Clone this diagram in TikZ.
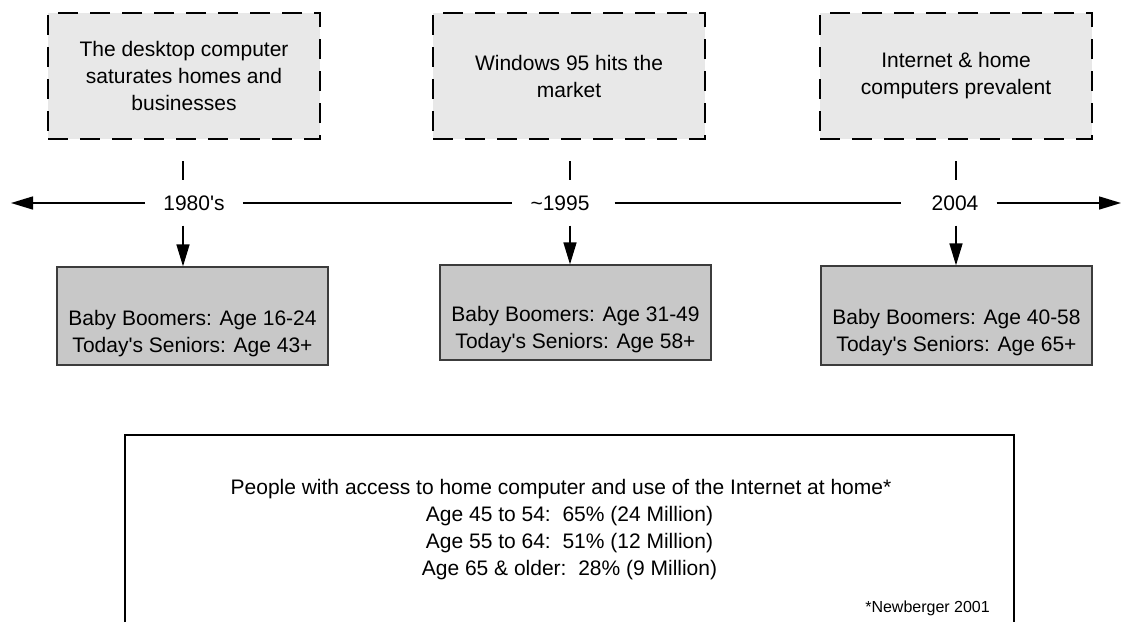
\documentclass[tikz,border=0pt]{standalone}
\usepackage{fontspec}
\setmainfont{Liberation Sans}
\usetikzlibrary{arrows.meta}
\definecolor{evfill}{RGB}{232,232,232}
\definecolor{agefill}{RGB}{200,200,200}
\definecolor{ageline}{RGB}{60,60,60}
\begin{document}
\begin{tikzpicture}[x=1pt,y=-1pt,
  evbox/.style={draw=black, fill=evfill, line width=2.8pt, dash pattern=on 20pt off 12pt,
    minimum width=272pt, minimum height=126pt, align=center, inner sep=0pt,
    font=\fontsize{21}{27}\selectfont},
  agebox/.style={draw=ageline, fill=agefill, line width=1.3pt, minimum width=271pt, inner sep=0pt},
  agetext/.style={align=center, inner sep=0pt, font=\fontsize{21}{27}\selectfont},
  yearlbl/.style={inner xsep=18pt, inner ysep=0pt, minimum height=45pt, font=\fontsize{21}{25}\selectfont},
  conn/.style={line width=1.5pt},
  arr/.style={line width=1.5pt, -{Triangle[length=22pt,width=13pt]}},
  statline/.style={line width=1.5pt}
]
\useasboundingbox (0,0) rectangle (1122,622);
\clip (0,0) rectangle (1122,622);

% event boxes (top)
\node[evbox] (e1) at (184,76) {The desktop computer\\saturates homes and\\businesses};
\node[evbox] (e2) at (569,76) {Windows 95 hits the\\market};
\node[evbox] (e3) at (956,76) {Internet \& home\\computers prevalent};

% year labels on the timeline
\node[yearlbl] (l1) at (194,203) {1980\textquotesingle s};
\node[yearlbl] (l2) at (560,203) {\textasciitilde 1995};
\node[yearlbl] (l3) at (955,203) {2004};

% timeline
\coordinate (tl) at (11,203);
\coordinate (tr) at (1121,203);
\draw[arr] (l1.west) -- (tl);
\draw[conn] (l1.east) -- (l2.west);
\draw[conn, shorten <=7pt, shorten >=12pt] (l2.east) -- (l3.west);
\draw[arr] (l3.east) -- (tr);

% age boxes
\node[agebox, minimum height=98pt] (g1) at (192.5,316) {};
\node[agebox, minimum height=95pt] (g2) at (575.5,312.5) {};
\node[agebox, minimum height=99pt] (g3) at (956.5,315.5) {};
\node[agetext] (g1t) at (192.5,333.5) {Baby Boomers: Age 16-24\\Today\textquotesingle s Seniors: Age 43+};
\node[agetext] (g2t) at (575.5,330) {Baby Boomers: Age 31-49\\Today\textquotesingle s Seniors: Age 58+};
\node[agetext] (g3t) at (956.5,332.5) {Baby Boomers: Age 40-58\\Today\textquotesingle s Seniors: Age 65+};

% ticks above labels
\coordinate (t1) at (183,161);
\coordinate (t2) at (570,161);
\coordinate (t3) at (956,161);
\draw[conn] (t1) -- (t1 |- l1.north);
\draw[conn] (t2) -- (t2 |- l2.north);
\draw[conn] (t3) -- (t3 |- l3.north);

% arrows down to age boxes
\draw[arr] (t1 |- l1.south) -- (t1 |- g1.north);
\draw[arr] (t2 |- l2.south) -- (t2 |- g2.north);
\draw[arr] (t3 |- l3.south) -- (t3 |- g3.north);

% statistics box (open at the bottom)
\coordinate (sbl) at (125,622);
\coordinate (stl) at (125,435);
\coordinate (str) at (1014,435);
\coordinate (sbr) at (1014,622);
\draw[statline] (sbl) -- (stl) -- (str) -- (sbr);
\node[agetext] (stats) at (569.5,530) {People with access to home computer and use of the Internet at home*\hspace*{17pt}\\
Age 45 to 54:\ \ 65\% (24 Million)\\
Age 55 to 64:\ \ 51\% (12 Million)\\
Age 65 \& older:\ \ 28\% (9 Million)};
\node[anchor=base east, inner sep=0pt, font=\fontsize{16}{19}\selectfont] (src) at (990,612) {*Newberger 2001};
\end{tikzpicture}
\end{document}
